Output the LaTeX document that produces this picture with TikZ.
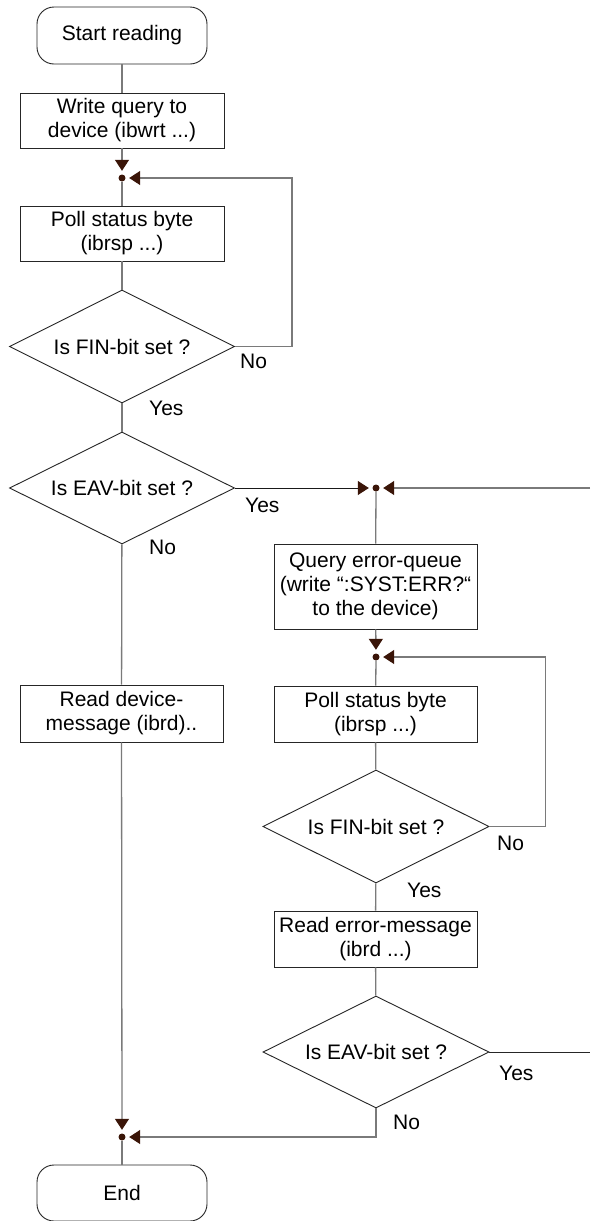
\documentclass[tikz,border=0pt]{standalone}
\usepackage{fontspec}
\setmainfont{Liberation Sans}
\usetikzlibrary{shapes.geometric,arrows.meta}
\definecolor{arr}{HTML}{3A1508}
\definecolor{conncol}{HTML}{7A7A7A}
\begin{document}
\begin{tikzpicture}[x=1pt,y=-1pt,
  every node/.style={font=\fontsize{21}{24}\selectfont},
  box/.style={draw=black!85, line width=0.9pt, rectangle, align=center, inner sep=0pt},
  term/.style={box, rounded corners=17pt},
  decision/.style={draw=black!85, line width=0.9pt, diamond, aspect=2, inner sep=0pt, align=center},
  junc/.style={circle, fill=arr, inner sep=0pt, minimum size=7pt},
  conn/.style={draw=conncol, line width=1.3pt},
  flow/.style={conn, -{Triangle[length=11pt,width=14pt,color=arr]}, shorten >=3.5pt},
  lbl/.style={anchor=base west, inner sep=0pt}]
\fill[white] (0,0) rectangle (590,1221);
\useasboundingbox (0,0) rectangle (590,1221);

% left column
\node[term, minimum width=170pt, minimum height=57pt] (start) at (122,35.5) {Start reading};
\node[box, minimum width=204pt, minimum height=55pt] (write) at (122,120.5) {Write query to\\device (ibwrt ...)};
\node[junc] (j1) at (122,178) {};
\node[box, minimum width=204pt, minimum height=55pt] (poll1) at (122,233.5) {Poll status byte\\(ibrsp ...)};
\node[decision, minimum width=225pt, minimum height=113pt] (fin1) at (122,346.5) {Is FIN-bit set ?};
\node[decision, minimum width=225pt, minimum height=112pt] (eav1) at (122,488) {Is EAV-bit set ?};
\node[box, minimum width=203pt, minimum height=57pt] (readdev) at (121.5,713.5) {Read device-\\message (ibrd)..};
\node[junc] (j4) at (122,1137) {};
\node[term, minimum width=170pt, minimum height=56pt] (end) at (122,1193) {End};

% right column
\node[junc] (jq) at (376,488) {};
\coordinate (rin) at (590,488);
\node[box, minimum width=203pt, minimum height=85pt] (query) at (375.5,586.5) {Query error-queue\\(write “:SYST:ERR?“\\to the device)};
\node[junc] (j2) at (376,657) {};
\node[box, minimum width=203pt, minimum height=56pt] (poll2) at (375.5,714) {Poll status byte\\(ibrsp ...)};
\node[decision, minimum width=226pt, minimum height=113pt] (fin2) at (376,826.5) {Is FIN-bit set ?};
\node[box, minimum width=203pt, minimum height=56pt] (readerr) at (375.5,939) {Read error-message\\(ibrd ...)};
\node[decision, minimum width=226pt, minimum height=112pt] (eav2) at (376,1052) {Is EAV-bit set ?};
\coordinate (rout) at (590,1052);

% connectors
\draw[conn] (start) -- (write);
\draw[flow] (write) -- (j1);
\draw[conn] (j1) -- (poll1);
\draw[conn] (poll1) -- (fin1);
\draw[flow] (fin1.east) -- ++(57,0) |- (j1);
\draw[conn] (fin1) -- (eav1);
\draw[conn] (eav1) -- (readdev);
\draw[flow] (readdev) -- (j4);
\draw[conn] (j4) -- (end);
\draw[flow, draw=black!90, line width=1pt] (eav1.east) -- (jq);
\draw[flow] (rin) -- (jq);
\draw[conn] (jq) -- (query);
\draw[flow] (query) -- (j2);
\draw[conn] (j2) -- (poll2);
\draw[conn] (poll2) -- (fin2);
\draw[flow] (fin2.east) -- ++(56,0) |- (j2);
\draw[conn] (fin2) -- (readerr);
\draw[conn] (readerr) -- (eav2);
\draw[conn, draw=black!85, line width=1pt] (eav2.east) -- (rout);
\draw[flow] (eav2.south) |- (j4);

% labels
\node[lbl] (l1) at (240,368) {No};
\node[lbl] (l2) at (149,415) {Yes};
\node[lbl] (l3) at (245,512) {Yes};
\node[lbl] (l4) at (149,554) {No};
\node[lbl] (l5) at (497,850) {No};
\node[lbl] (l6) at (407,897) {Yes};
\node[lbl] (l7) at (499,1080) {Yes};
\node[lbl] (l8) at (393,1129) {No};
\end{tikzpicture}
\end{document}
